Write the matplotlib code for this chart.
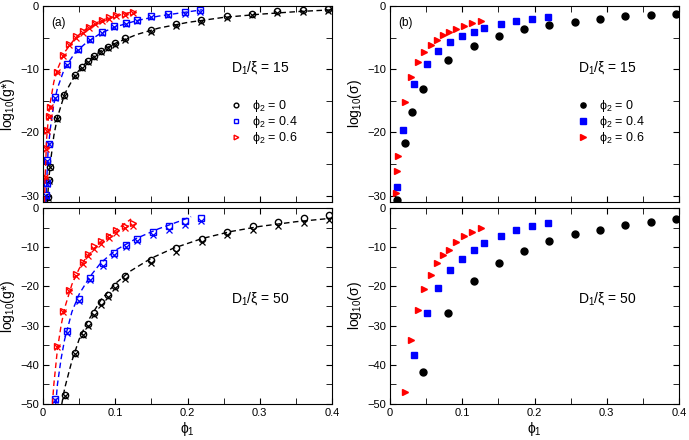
import matplotlib
matplotlib.use("Agg")
import matplotlib.pyplot as plt
from matplotlib.ticker import MultipleLocator

plt.rcParams['font.family'] = ['Liberation Sans', 'DejaVu Sans']
plt.rcParams['mathtext.default'] = 'regular'

# ---- panel (a), D1/xi = 15 : log10(g*) ----
a15_phi0_x = [0.007, 0.0083, 0.0101, 0.0198, 0.029, 0.0446, 0.054, 0.062, 0.070, 0.080,
              0.0897, 0.0993, 0.114, 0.1494, 0.184, 0.219, 0.254, 0.2897, 0.324, 0.3595, 0.3945]
a15_phi0_y = [-30.2, -27.5, -25.4, -17.7, -14.1, -10.9, -9.6, -8.7, -7.9, -7.1,
              -6.5, -5.9, -5.1, -3.8, -2.9, -2.2, -1.6, -1.2, -0.8, -0.6, -0.4]
a15_phi0_xs = [-30.3, -27.6, -25.5, -17.9, -14.3, -11.1, -9.8, -8.9, -8.1, -7.3,
               -6.7, -6.1, -5.3, -4.1, -3.2, -2.5, -1.9, -1.5, -1.1, -0.9, -0.8]
a15_phi4_x = [0.0041, 0.005, 0.006, 0.0078, 0.017, 0.033, 0.049, 0.065, 0.082, 0.098,
              0.1145, 0.13, 0.150, 0.1733, 0.196, 0.2175]
a15_phi4_y = [-29.9, -28.0, -24.4, -21.8, -14.4, -9.2, -6.8, -5.2, -4.1, -3.2,
              -2.7, -2.2, -1.6, -1.3, -1.0, -0.7]
a15_phi4_xs = [-30.0, -28.1, -24.5, -21.9, -14.6, -9.4, -7.0, -5.4, -4.3, -3.4,
               -2.9, -2.4, -1.8, -1.5, -1.2, -0.9]
a15_phi6_x = [0.0028, 0.004, 0.006, 0.0083, 0.0097, 0.0193, 0.0276, 0.036, 0.045, 0.055,
              0.0634, 0.072, 0.081, 0.0915, 0.1016, 0.113, 0.124]
a15_phi6_y = [-27.0, -22.5, -19.6, -17.4, -15.9, -10.4, -7.7, -6.0, -4.8, -4.0,
              -3.3, -2.7, -2.2, -1.8, -1.4, -1.2, -0.9]
a15_phi6_xs = [-27.1, -22.6, -19.7, -17.5, -16.0, -10.5, -7.9, -6.2, -5.0, -4.2,
               -3.5, -2.9, -2.4, -2.0, -1.6, -1.4, -1.1]

a15_fit0_x = [0.006, 0.008, 0.01, 0.015, 0.02, 0.03, 0.045, 0.06, 0.08, 0.1, 0.13, 0.16, 0.2, 0.25, 0.3, 0.35, 0.4]
a15_fit0_y = [-31.0, -27.5, -25.0, -20.5, -17.6, -13.9, -10.8, -8.9, -7.1, -5.9, -4.5, -3.5, -2.6, -1.8, -1.3, -0.9, -0.6]
a15_fit4_x = [0.004, 0.005, 0.007, 0.01, 0.015, 0.02, 0.03, 0.045, 0.06, 0.08, 0.1, 0.13, 0.16, 0.19, 0.22]
a15_fit4_y = [-31.0, -28.0, -23.0, -19.5, -15.5, -13.0, -9.8, -7.3, -5.8, -4.3, -3.3, -2.3, -1.6, -1.1, -0.6]
a15_fit6_x = [0.002, 0.003, 0.005, 0.008, 0.01, 0.015, 0.02, 0.03, 0.045, 0.06, 0.08, 0.1, 0.125]
a15_fit6_y = [-31.0, -27.0, -21.0, -17.0, -15.3, -12.0, -10.0, -7.3, -5.0, -3.6, -2.4, -1.6, -0.9]

# ---- panel (a), D1/xi = 50 ----
a50_phi0_x = [0.030, 0.0447, 0.055, 0.0623, 0.0706, 0.0807, 0.090, 0.0996, 0.114, 0.1499,
              0.1845, 0.220, 0.255, 0.2906, 0.325, 0.3607, 0.396]
a50_phi0_y = [-47.7, -36.9, -32.1, -29.6, -26.7, -24.1, -22.1, -19.8, -17.3, -13.2,
              -10.2, -7.8, -6.1, -4.5, -3.6, -2.5, -1.9]
a50_phi0_xs = [-48.0, -37.3, -32.5, -30.0, -27.2, -24.7, -22.7, -20.4, -18.0, -14.0,
               -11.1, -8.7, -7.0, -5.5, -4.6, -3.7, -3.1]
a50_phi4_x = [0.017, 0.0332, 0.0493, 0.0655, 0.0826, 0.0987, 0.1144, 0.130, 0.1517, 0.174, 0.1965, 0.218]
a50_phi4_y = [-48.7, -31.3, -23.2, -17.8, -14.1, -11.5, -9.4, -7.8, -6.0, -4.7, -3.4, -2.5]
a50_phi4_xs = [-49.0, -31.8, -23.7, -18.4, -14.7, -12.1, -10.0, -8.5, -6.8, -5.5, -4.3, -3.4]
a50_phi6_x = [0.0198, 0.0277, 0.0364, 0.0457, 0.0549, 0.0627, 0.071, 0.0798, 0.0909, 0.1015, 0.113, 0.1245]
a50_phi6_y = [-35.2, -26.2, -20.8, -16.9, -13.9, -11.8, -9.8, -8.5, -7.1, -5.7, -4.5, -3.8]
a50_phi6_xs = [-35.5, -26.6, -21.2, -17.3, -14.4, -12.3, -10.4, -9.1, -7.7, -6.4, -5.2, -4.5]

a50_fit0_x = [0.026, 0.03, 0.04, 0.05, 0.06, 0.08, 0.1, 0.12, 0.15, 0.18, 0.22, 0.26, 0.3, 0.35, 0.4]
a50_fit0_y = [-50.0, -46.0, -39.0, -33.5, -29.5, -23.5, -19.3, -16.2, -12.8, -10.3, -7.8, -6.0, -4.7, -3.5, -2.6]
a50_fit4_x = [0.0176, 0.02, 0.025, 0.03, 0.04, 0.05, 0.065, 0.08, 0.1, 0.13, 0.16, 0.19, 0.205]
a50_fit4_y = [-50.0, -45.0, -38.5, -33.5, -26.5, -22.0, -17.5, -14.0, -10.8, -7.7, -5.3, -3.3, -2.2]
a50_fit6_x = [0.013, 0.015, 0.02, 0.025, 0.03, 0.04, 0.05, 0.06, 0.08, 0.1, 0.122]
a50_fit6_y = [-50.0, -45.0, -36.0, -30.0, -25.5, -19.5, -15.5, -12.5, -8.6, -5.8, -2.8]

# ---- panel (b), D1/xi = 15 : log10(sigma) ----
b15_phi0_x = [0.0101, 0.0207, 0.0304, 0.0456, 0.0806, 0.1157, 0.1507, 0.1857, 0.2207,
              0.2558, 0.2908, 0.3258, 0.3608, 0.3959]
b15_phi0_y = [-30.7, -21.6, -16.8, -13.1, -8.6, -6.3, -4.8, -3.7, -3.0, -2.5, -2.1, -1.6, -1.4, -1.2]
b15_phi4_x = [0.0092, 0.0184, 0.0336, 0.0507, 0.0668, 0.0834, 0.0995, 0.1157, 0.1304,
              0.153, 0.1746, 0.1968, 0.2184]
b15_phi4_y = [-28.7, -19.6, -12.4, -9.1, -7.1, -5.7, -4.7, -4.1, -3.5, -2.8, -2.4, -2.0, -1.7]
b15_phi6_x = [0.0078, 0.0092, 0.0115, 0.0203, 0.0286, 0.0382, 0.047, 0.0562, 0.065, 0.0737,
              0.082, 0.0917, 0.1023, 0.1138, 0.1253]
b15_phi6_y = [-29.5, -26.1, -23.7, -15.2, -11.3, -8.9, -7.3, -6.2, -5.3, -4.6,
              -4.1, -3.6, -3.2, -2.7, -2.4]

# ---- panel (b), D1/xi = 50 ----
b50_phi0_x = [0.0461, 0.0806, 0.1157, 0.1507, 0.1857, 0.2207, 0.2558, 0.2908, 0.3258, 0.3608, 0.3959]
b50_phi0_y = [-41.8, -26.7, -18.7, -14.0, -10.9, -8.4, -6.7, -5.5, -4.3, -3.6, -2.9]
b50_phi4_x = [0.0336, 0.0507, 0.0668, 0.0834, 0.0995, 0.1157, 0.1304, 0.153, 0.1746, 0.1968, 0.2184]
b50_phi4_y = [-37.6, -26.8, -20.3, -15.9, -13.0, -10.6, -8.9, -7.2, -5.6, -4.6, -3.7]
b50_phi6_x = [0.0203, 0.0286, 0.0382, 0.047, 0.0562, 0.065, 0.0737, 0.082, 0.0917, 0.1023, 0.1138, 0.1253]
b50_phi6_y = [-46.9, -33.8, -26.1, -20.7, -17.0, -14.1, -12.0, -10.6, -8.8, -7.1, -6.0, -5.1]

labels = ['ϕ$_2$ = 0', 'ϕ$_2$ = 0.4', 'ϕ$_2$ = 0.6']
colors = ['black', '#0000ff', '#ff0000']
markers = ['o', 's', '>']
dash = (0, (4, 2.5))

fig = plt.figure(figsize=(6.89, 4.40), dpi=100)
w = 289 / 689
h = 196 / 440
axA15 = fig.add_axes([43 / 689, 1 - 202 / 440, w, h])
axA50 = fig.add_axes([43 / 689, 1 - 404 / 440, w, h])
axB15 = fig.add_axes([390 / 689, 1 - 202 / 440, w, h])
axB50 = fig.add_axes([390 / 689, 1 - 404 / 440, w, h])

a15 = [(a15_phi0_x, a15_phi0_y, a15_phi0_xs, a15_fit0_x, a15_fit0_y),
       (a15_phi4_x, a15_phi4_y, a15_phi4_xs, a15_fit4_x, a15_fit4_y),
       (a15_phi6_x, a15_phi6_y, a15_phi6_xs, a15_fit6_x, a15_fit6_y)]
a50 = [(a50_phi0_x, a50_phi0_y, a50_phi0_xs, a50_fit0_x, a50_fit0_y),
       (a50_phi4_x, a50_phi4_y, a50_phi4_xs, a50_fit4_x, a50_fit4_y),
       (a50_phi6_x, a50_phi6_y, a50_phi6_xs, a50_fit6_x, a50_fit6_y)]

for ax, sets in [(axA15, a15), (axA50, a50)]:
    for (px, py, pxs, fx, fy), c, m, lab in zip(sets, colors, markers, labels):
        ax.plot(fx, fy, linestyle=dash, color=c, lw=1)
        ax.plot(px, pxs, 'x', color=c, ms=4, mew=0.9)
        ax.plot(px, py, m, mfc='none', mec=c, ms=4.5, mew=1, label=lab)

b15 = [(b15_phi0_x, b15_phi0_y), (b15_phi4_x, b15_phi4_y), (b15_phi6_x, b15_phi6_y)]
b50 = [(b50_phi0_x, b50_phi0_y), (b50_phi4_x, b50_phi4_y), (b50_phi6_x, b50_phi6_y)]
for ax, sets in [(axB15, b15), (axB50, b50)]:
    for (px, py), c, m, lab in zip(sets, colors, markers, labels):
        ax.plot(px, py, m, color=c, mec=c, ms=5, label=lab, linestyle='none')

for ax in [axA15, axA50, axB15, axB50]:
    ax.set_xlim(0, 0.4)
    ax.xaxis.set_major_locator(MultipleLocator(0.1))
    ax.xaxis.set_minor_locator(MultipleLocator(0.05))
    ax.yaxis.set_major_locator(MultipleLocator(10))
    ax.yaxis.set_minor_locator(MultipleLocator(5))
    ax.tick_params(which='both', direction='in', top=True, right=True, labelsize=8, pad=3)
    ax.tick_params(which='major', length=4)
    ax.tick_params(which='minor', length=4)
    ax.xaxis.set_major_formatter(plt.FuncFormatter(lambda v, p: '0' if v == 0 else f'{v:.1f}'))

for ax in [axA15, axB15]:
    ax.set_ylim(-31, 0)
    ax.tick_params(labelbottom=False)
    ax.text(0.65, 0.685, 'D$_1$/ξ = 15', transform=ax.transAxes, fontsize=10, va='center')
    ax.legend(loc='upper left', bbox_to_anchor=(0.62, 0.56), frameon=False, fontsize=9,
              handlelength=1.2, handletextpad=0.7, labelspacing=0.0, borderpad=0, markerscale=0.75)
for ax in [axA50, axB50]:
    ax.set_ylim(-50, 0)
    ax.set_xlabel('ϕ$_1$', fontsize=10, labelpad=1)
    ax.text(0.65, 0.536, 'D$_1$/ξ = 50', transform=ax.transAxes, fontsize=10, va='center')

axA15.set_ylabel('log$_{10}$(g*)', fontsize=10, labelpad=2)
axA50.set_ylabel('log$_{10}$(g*)', fontsize=10, labelpad=2)
axB15.set_ylabel('log$_{10}$(σ)', fontsize=10, labelpad=2)
axB50.set_ylabel('log$_{10}$(σ)', fontsize=10, labelpad=2)
axA15.text(0.03, 0.913, '(a)', transform=axA15.transAxes, fontsize=8.5, va='center')
axB15.text(0.03, 0.913, '(b)', transform=axB15.transAxes, fontsize=8.5, va='center')

fig.savefig('out.png', dpi=100)
